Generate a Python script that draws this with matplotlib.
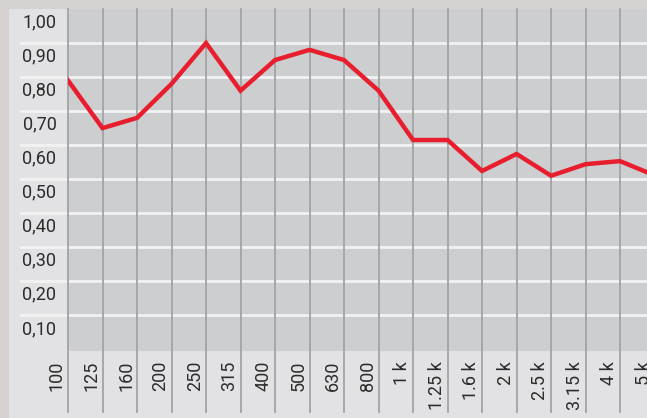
import matplotlib.pyplot as plt
from matplotlib.patches import Rectangle
from matplotlib.transforms import blended_transform_factory

# Sound absorption coefficient per third-octave band
bands = ['100', '125', '160', '200', '250', '315', '400', '500', '630', '800',
         '1 k', '1.25 k', '1.6 k', '2 k', '2.5 k', '3.15 k', '4 k', '5 k']
alpha = [0.79, 0.65, 0.68, 0.78, 0.90, 0.76, 0.85, 0.88, 0.85, 0.76,
         0.615, 0.615, 0.524, 0.574, 0.51, 0.544, 0.553, 0.511]
y_ticks = [0.10, 0.20, 0.30, 0.40, 0.50, 0.60, 0.70, 0.80, 0.90, 1.00]
y_labels = ['0,10', '0,20', '0,30', '0,40', '0,50', '0,60', '0,70', '0,80', '0,90', '1,00']

plt.rcParams['font.family'] = ['Roboto', 'DejaVu Sans']

W, H = 647, 418
fig = plt.figure(figsize=(W / 100, H / 100), dpi=100)
fig.patch.set_facecolor('#d4d1d0')
fig.patches.append(Rectangle((9 / W, 0), 1, (H - 9) / H, transform=fig.transFigure,
                             facecolor='#e2e2e4', edgecolor='none', zorder=-10))

ax = fig.add_axes([68 / W, (H - 351) / H, 579 / W, 342 / H])
ax.set_facecolor('#cdced0')
ax.set_xlim(0, 16.78)
ax.set_ylim(-0.005, 1.0)
for s in ax.spines.values():
    s.set_visible(False)
ax.set_xticks([])
ax.set_yticks([])

x = list(range(len(bands)))

# horizontal white grid reaching into the label column
for v in y_ticks[:-1]:
    ax.axhline(v, xmin=-0.081, xmax=1, color='#f2f2f3', lw=2, clip_on=False, zorder=1)

# vertical band separators running down through the frequency labels
for i in x:
    if i <= 16.78:
        ax.axvline(i, ymin=-0.178, ymax=1, color='#a2a3a5', lw=1.3, clip_on=False, zorder=2)

ax.plot(x, alpha, color='#e81e2e', lw=3.2, solid_joinstyle='miter', zorder=3)

ty = blended_transform_factory(fig.transFigure, ax.transData)
for v, lab in zip(y_ticks, y_labels):
    fig.text(56.5 / W, v - 0.04, lab, transform=ty, ha='right', va='center',
             fontsize=13, color='#2b2b2b')

tx = blended_transform_factory(ax.transData, fig.transFigure)
for i, lab in zip(x, bands):
    fig.text(i - 11 / 34.5, (H - 361) / H, lab, transform=tx, rotation=90,
             ha='center', va='top', fontsize=13, color='#2b2b2b')

fig.savefig('out.png', dpi=100, facecolor=fig.get_facecolor())
